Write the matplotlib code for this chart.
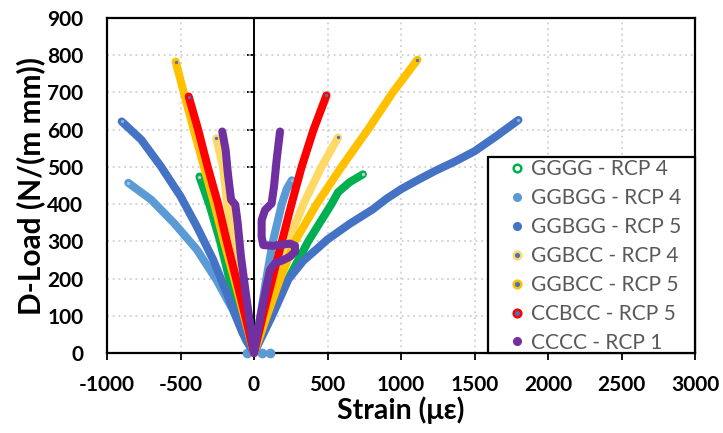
import matplotlib
matplotlib.use("Agg")
import matplotlib.pyplot as plt
from matplotlib.lines import Line2D
from matplotlib.patches import Rectangle

plt.rcParams['font.family'] = ['Lato', 'DejaVu Sans']
plt.rcParams['axes.unicode_minus'] = False

# ---------------- data ----------------
series_names = ["GGGG - RCP 4", "GGBGG - RCP 4", "GGBGG - RCP 5", "GGBCC - RCP 4",
                "GGBCC - RCP 5", "CCBCC - RCP 5", "CCCC - RCP 1"]
series_colors = ["#00B050", "#5B9BD5", "#4472C4", "#FFD966", "#FFC000", "#FF0000", "#7030A0"]
inner_colors = ["#C9C9C9", "#9DC3E6", "#8FAADC", "#4472C4", "#4472C4", "#4472C4", None]

gggg_strain = [-371, -300, -233, -178, -122, -56, 0, 110, 234, 369, 527, 572, 651, 741]
gggg_load = [474, 394, 304, 215, 125, 36, 0, 100, 200, 300, 400, 432, 459, 480]

ggbgg4_strain = [-855, -700, -544, -389, -256, -144, -56, 0, 43, 83, 128, 189, 223, 257]
ggbgg4_load = [457, 412, 349, 278, 197, 116, 36, 0, 99, 198, 299, 400, 441, 464]
ggbgg4_zero_strain = [-48, 54, 109]
ggbgg4_zero_load = [0, 0, 0]

ggbgg5_strain = [-900, -767, -633, -500, -389, -278, -167, -78, 0, 122, 234, 336, 426, 500,
                 651, 808, 900, 1000, 1120, 1236, 1370, 1500, 1650, 1799]
ggbgg5_load = [622, 573, 501, 421, 340, 251, 143, 54, 0, 99, 198, 248, 279, 305,
               347, 386, 414, 440, 466, 490, 515, 542, 583, 626]

ggbcc4_strain = [-256, -211, -182, -135, -90, -45, 0, 77, 144, 234, 336, 459, 572]
ggbcc4_load = [577, 500, 400, 300, 200, 100, 0, 100, 200, 300, 400, 500, 579]

ggbcc5_strain = [-533, -478, -410, -340, -270, -205, -135, -68, 0, 88, 178, 279, 426, 595,
                 775, 944, 1112]
ggbcc5_load = [783, 700, 600, 500, 400, 300, 200, 100, 0, 100, 200, 300, 400, 500,
               600, 700, 788]

ccbcc5_strain = [-444, -380, -315, -244, -185, -122, -60, 0, 60, 125, 190, 255, 324, 405, 493]
ccbcc5_load = [689, 600, 500, 400, 300, 200, 100, 0, 100, 200, 300, 400, 500, 600, 692]

cccc1_strain = [-216, -193, -178, -156, -127, -111, -89, -56, -18, 0, 40, 75, 109, 143, 200,
                245, 279, 279, 245, 211, 131, 63, 52, 52, 75, 120, 136, 154, 177]
cccc1_load = [595, 546, 483, 412, 398, 349, 260, 161, 54, 0, 90, 160, 223, 241, 250,
              259, 272, 288, 294, 292, 288, 290, 312, 357, 384, 402, 447, 519, 595]

all_strain = [gggg_strain, ggbgg4_strain, ggbgg5_strain, ggbcc4_strain, ggbcc5_strain,
              ccbcc5_strain, cccc1_strain]
all_load = [gggg_load, ggbgg4_load, ggbgg5_load, ggbcc4_load, ggbcc5_load,
            ccbcc5_load, cccc1_load]

x_ticks = [-1000, -500, 0, 500, 1000, 1500, 2000, 2500, 3000]
y_ticks = [0, 100, 200, 300, 400, 500, 600, 700, 800, 900]

# ---------------- figure ----------------
fig = plt.figure(figsize=(7.23, 4.33), dpi=100)
L, R, B, T = 107, 695, 353, 18
W, H = 723, 433
ax = fig.add_axes([L / W, (H - B) / H, (R - L) / W, (B - T) / H])

ax.set_xlim(-1000, 3000)
ax.set_ylim(0, 900)
ax.set_xticks(x_ticks)
ax.set_yticks(y_ticks)
ax.grid(True, color="#D0D0D0", linestyle=(0, (1.2, 2.2)), linewidth=1.2)
ax.set_axisbelow(True)

for s in ax.spines.values():
    s.set_linewidth(1.6)
    s.set_color("black")

ax.tick_params(axis="y", length=0, pad=17, labelsize=15)
ax.tick_params(axis="x", direction="out", length=5, width=1.3, pad=11, labelsize=15)
for lab in ax.get_xticklabels() + ax.get_yticklabels():
    lab.set_fontweight("bold")

# y axis line crossing at strain 0
ax.axvline(0, color="black", lw=1.4, zorder=2.5)
sec = ax.secondary_yaxis(0.25)
sec.set_yticks(y_ticks)
sec.tick_params(direction="out", length=5, width=1.3, labelleft=False)
sec.spines["left"].set_visible(False)

# ---------------- series ----------------
for i, (xs, ys) in enumerate(zip(all_strain, all_load)):
    c = series_colors[i]
    ax.plot(xs, ys, color=c, lw=5.8, solid_capstyle="round", solid_joinstyle="round",
            clip_on=False, zorder=3 + i)
    if i == 1:
        ax.plot(ggbgg4_zero_strain, ggbgg4_zero_load, "o", color=c, ms=6,
                clip_on=False, zorder=3 + i)
    if inner_colors[i] is not None:
        ends_x = [xs[0], xs[-1]]
        ends_y = [ys[0], ys[-1]]
        ax.plot(ends_x, ends_y, "o", ms=2.4, color=inner_colors[i], mec="none",
                zorder=3 + i, clip_on=False)

# ---------------- legend ----------------
handles = []
for i, name in enumerate(series_names):
    fc = series_colors[i]
    if i == 0:
        fc = "white"
    elif inner_colors[i] == "#4472C4":
        fc = "#4472C4"
    handles.append(Line2D([], [], linestyle="none", marker="o", ms=5.5,
                          markerfacecolor=fc, markeredgecolor=series_colors[i],
                          markeredgewidth=1.8 if i in (0, 3, 4, 5) else 1.0))

lx0 = (488 - L) / (R - L)
ly1 = (B - 157) / (B - T)
ax.add_patch(Rectangle((lx0, 0), 1 - lx0, ly1, transform=ax.transAxes,
                       facecolor="white", edgecolor="black", lw=1.6, zorder=20,
                       clip_on=False))
leg = ax.legend(handles, series_names, loc="upper left",
                bbox_to_anchor=((511 - L) / (R - L), (B - 159) / (B - T)),
                frameon=False, fontsize=15, handlelength=0.6, handletextpad=0.35,
                labelspacing=0.43, borderaxespad=0, borderpad=0)
leg.set_zorder(21)
for t in leg.get_texts():
    t.set_color("#595959")

# ---------------- axis titles ----------------
fig.text(401 / W, 1 - 410 / H, "Strain (με)", ha="center", va="center",
         fontsize=20.5, fontweight="bold")
fig.text(31 / W, 1 - 186 / H, "D-Load (N/(m mm))", ha="center", va="center",
         rotation=90, fontsize=21.5, fontweight="bold")

fig.savefig("out.png", dpi=100)
